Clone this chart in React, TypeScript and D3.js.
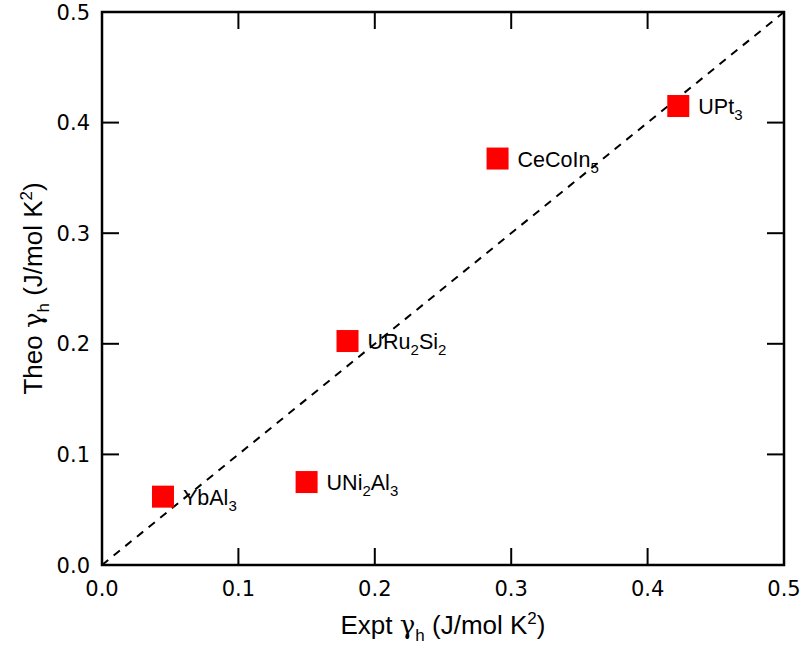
import React from "react";
import * as d3 from "d3";

const materials = ["YbAl3", "UNi2Al3", "URu2Si2", "CeCoIn5", "UPt3"];
const labelParts: [string, string][][] = [
  [["YbAl", ""], ["3", "sub"]],
  [["UNi", ""], ["2", "sub"], ["Al", ""], ["3", "sub"]],
  [["URu", ""], ["2", "sub"], ["Si", ""], ["2", "sub"]],
  [["CeCoIn", ""], ["5", "sub"]],
  [["UPt", ""], ["3", "sub"]],
];
const exptGamma = [0.0447, 0.150, 0.180, 0.290, 0.4225];
const theoGamma = [0.0618, 0.075, 0.2025, 0.3675, 0.415];
const xTicks = [0.0, 0.1, 0.2, 0.3, 0.4, 0.5];
const yTicks = [0.0, 0.1, 0.2, 0.3, 0.4, 0.5];

const W = 808, H = 648;
const L = 102, R = 784, T = 12, B = 565;

export default function App() {
  const x = d3.scaleLinear().domain([0, 0.5]).range([L, R]);
  const y = d3.scaleLinear().domain([0, 0.5]).range([B, T]);
  const tickLen = 17;
  const labelFont = "'Liberation Sans', Arial, sans-serif";
  const tickFont = "'DejaVu Sans', sans-serif";
  const gammaFont = "'DejaVu Serif', serif";
  const line = d3.line<number>().x((d) => x(d)).y((d) => y(d));
  const ms = 22;
  const titleParts = (name: string) => [
    <tspan key="a">{name} </tspan>,
    <tspan key="g" fontFamily={gammaFont} fontStyle="normal">γ</tspan>,
    <tspan key="h" fontSize={17} dy={7}>h</tspan>,
    <tspan key="b" dy={-7}> (J/mol K</tspan>,
    <tspan key="s" fontSize={17} dy={-10}>2</tspan>,
    <tspan key="c" dy={10}>)</tspan>,
  ];
  return (
    <svg width={W} height={H} style={{ position: "absolute", left: 0, top: 0, background: "#fff" }}>
      <rect x={0} y={0} width={W} height={H} fill="#fff" />
      <path d={line([0, 0.5]) || ""} stroke="#000" strokeWidth={2} strokeDasharray="8,7" fill="none" />
      <rect x={L} y={T} width={R - L} height={B - T} fill="none" stroke="#000" strokeWidth={2.5} />
      {xTicks.map((t, i) => (
        <g key={"xt" + i}>
          {i > 0 && i < xTicks.length - 1 && (
            <>
              <line x1={x(t)} x2={x(t)} y1={B} y2={B - tickLen} stroke="#000" strokeWidth={2} />
              <line x1={x(t)} x2={x(t)} y1={T} y2={T + tickLen} stroke="#000" strokeWidth={2} />
            </>
          )}
          <text x={x(t)} y={596} textAnchor="middle" fontFamily={tickFont} fontSize={21} fill="#000">
            {t.toFixed(1)}
          </text>
        </g>
      ))}
      {yTicks.map((t, i) => (
        <g key={"yt" + i}>
          {i > 0 && i < yTicks.length - 1 && (
            <>
              <line x1={L} x2={L + tickLen} y1={y(t)} y2={y(t)} stroke="#000" strokeWidth={2} />
              <line x1={R} x2={R - tickLen} y1={y(t)} y2={y(t)} stroke="#000" strokeWidth={2} />
            </>
          )}
          <text x={90} y={y(t)} dy="0.36em" textAnchor="end" fontFamily={tickFont} fontSize={21} fill="#000">
            {t.toFixed(1)}
          </text>
        </g>
      ))}
      {materials.map((m, i) => (
        <g key={m}>
          <rect
            x={x(exptGamma[i]) - ms / 2}
            y={y(theoGamma[i]) - ms / 2}
            width={ms}
            height={ms}
            fill="#ff0000"
          />
          <text x={x(exptGamma[i]) + 20} y={y(theoGamma[i]) + 8} fontFamily={labelFont} fontSize={21.5} fill="#000">
            {labelParts[i].map(([s, k], j) =>
              k === "sub" ? (
                <tspan key={j} fontSize={15} dy={6}>{s}</tspan>
              ) : (
                <tspan key={j} dy={j > 0 && labelParts[i][j - 1][1] === "sub" ? -6 : 0}>{s}</tspan>
              )
            )}
          </text>
        </g>
      ))}
      <text x={(L + R) / 2} y={634} textAnchor="middle" fontFamily={labelFont} fontSize={26} fill="#000">
        {titleParts("Expt")}
      </text>
      <text
        transform={`translate(42, ${(T + B) / 2}) rotate(-90)`}
        textAnchor="middle"
        fontFamily={labelFont}
        fontSize={26}
        fill="#000"
      >
        {titleParts("Theo")}
      </text>
    </svg>
  );
}
